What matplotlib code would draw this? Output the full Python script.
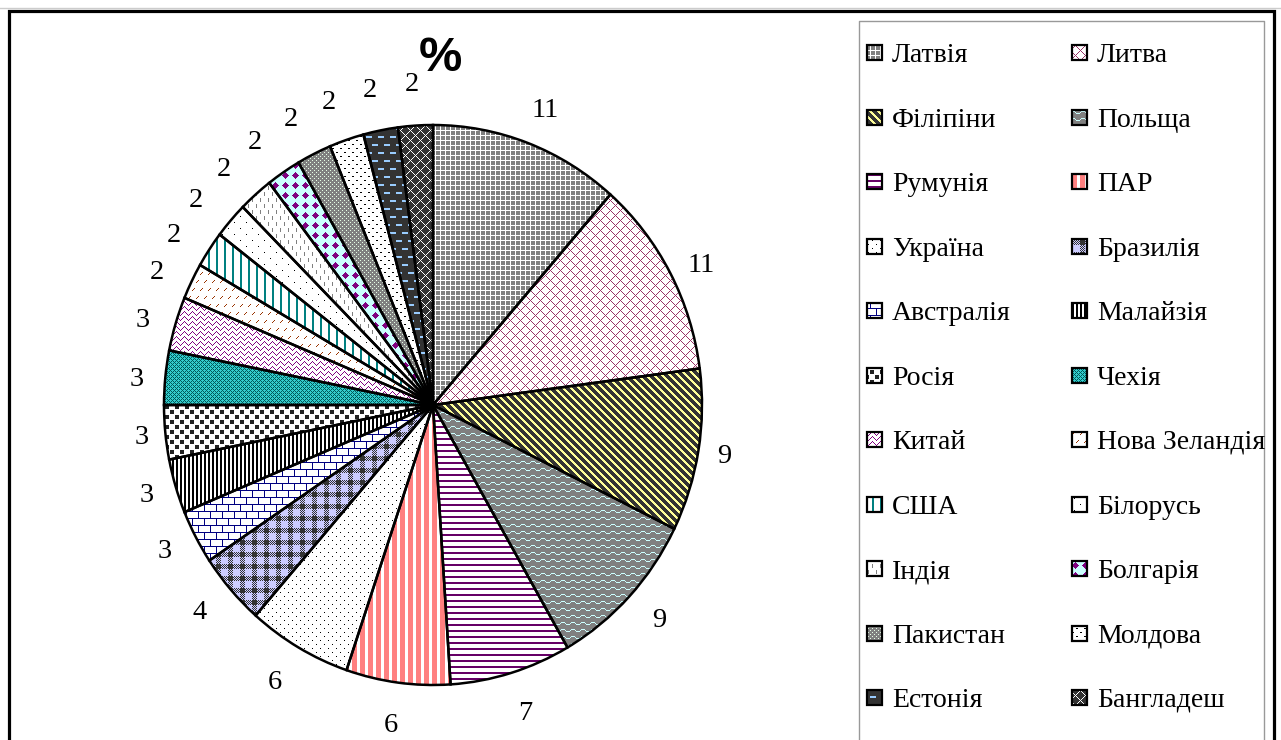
import numpy as np
import matplotlib
matplotlib.use('Agg')
import matplotlib.pyplot as plt
from matplotlib.patches import Rectangle
from matplotlib.colors import to_rgb

# ---------------- data ----------------
countries = ['Латвія', 'Литва', 'Філіпіни', 'Польща', 'Румунія', 'ПАР', 'Україна',
             'Бразилія', 'Австралія', 'Малайзія', 'Росія', 'Чехія', 'Китай',
             'Нова Зеландія', 'США', 'Білорусь', 'Індія', 'Болгарія', 'Пакистан',
             'Молдова', 'Естонія', 'Бангладеш']
shares = [11, 11, 9, 9, 7, 6, 6, 4, 3, 3, 3, 3, 3, 2, 2, 2, 2, 2, 2, 2, 2, 2]
title = '%'

# ---------------- fill patterns (decoration only) ----------------
def _i(m):
    return m.astype(int)

patterns = {
    'Латвія': (['#808080', '#FFFFFF'], lambda I, J: _i((I % 5 == 0) | (J % 5 == 0))),
    'Литва': (['#FFFFFF', '#993366'], lambda I, J: _i(((I + J) % 10 == 0) | ((I - J) % 10 == 0))),
    'Філіпіни': (['#333333', '#FFFF99'], lambda I, J: _i(((I - J) % 8) < 3)),
    'Польща': (['#808080', '#CCFFFF'],
               lambda I, J: _i(((I + np.round(1.5 * np.sin(2 * np.pi * J / 10)).astype(int)) % 7) == 0)),
    'Румунія': (['#FFFFFF', '#660066'], lambda I, J: _i((I % 6) < 2) + 0 * J),
    'ПАР': (['#FFFFFF', '#FF8080'], lambda I, J: _i((J % 8) < 5) + 0 * I),
    'Україна': (['#FFFFFF', '#000000'],
                lambda I, J: _i(((I % 8 == 0) & (J % 8 == 0)) | ((I % 8 == 4) & (J % 8 == 4)))),
    'Бразилія': (['#CCCCFF', '#333333'],
                 lambda I, J: _i(((I % 12 < 5) & (J % 12 < 5)) |
                                 (((I % 12 < 5) ^ (J % 12 < 5)) & ((I + J) % 2 == 0)))),
    'Австралія': (['#FFFFFF', '#000080'],
                  lambda I, J: _i((I % 7 == 0) | (((J + 6 * ((I // 7) % 2)) % 12) == 0))),
    'Малайзія': (['#FFFFFF', '#000000'], lambda I, J: _i((J % 4) < 2) + 0 * I),
    'Росія': (['#FFFFFF', '#222222'],
              lambda I, J: _i((((I // 5) + (J // 5)) % 2 == 0) & (I % 5 < 4) & (J % 5 < 4))),
    'Чехія': (['#33CCCC', '#005A5A'], lambda I, J: _i(((I + J) % 4 == 0) | ((I - J) % 4 == 0))),
    'Китай': (['#FFFFFF', '#800080'],
              lambda I, J: _i(((I + np.abs((J % 8) - 4)) % 5 == 0))),
    'Нова Зеландія': (['#FFFFFF', '#993300'],
                      lambda I, J: _i(((I % 8) < 3) & (((J + 4 * ((I // 8) % 2)) % 8) == 2 - (I % 8)))),
    'США': (['#FFFFFF', '#008080'], lambda I, J: _i((J % 8) < 2) + 0 * I),
    'Білорусь': (['#FFFFFF', '#000000'],
                 lambda I, J: _i(((I % 12 == 0) & (J % 12 == 0)) | ((I % 12 == 6) & (J % 12 == 6)))),
    'Індія': (['#FFFFFF', '#808080'],
              lambda I, J: _i(((J % 8 == 0) & (I % 12 < 4)) | ((J % 8 == 4) & ((I + 6) % 12 < 4)))),
    'Болгарія': (['#CCFFFF', '#800080'],
                 lambda I, J: _i((np.abs((I % 10) - 5) + np.abs((J % 10) - 5) <= 3))),
    'Пакистан': (['#808080', '#E6FFE6'],
                 lambda I, J: _i(((I % 4 == 0) & (J % 4 == 0)) | ((I % 4 == 2) & (J % 4 == 2)))),
    'Молдова': (['#FFFFFF', '#000000'],
                lambda I, J: _i(((I % 8 == 0) & (J % 8 < 2)) | ((I % 8 == 4) & ((J + 4) % 8 < 2)))),
    'Естонія': (['#333333', '#99CCFF'],
                lambda I, J: _i(((I % 8) < 2) & (((J + 6 * ((I // 8) % 2)) % 12) < 6))),
    'Бангладеш': (['#333333', '#FFFFFF'], lambda I, J: _i(((I + J) % 10 == 0) | ((I - J) % 10 == 0))),
}


def texture(name, I, J):
    cols, fn = patterns[name]
    idx = fn(I, J)
    idx = np.broadcast_to(idx, np.broadcast_shapes(I.shape, J.shape))
    pal = np.array([to_rgb(c) for c in cols])
    return pal[idx]


# ---------------- figure ----------------
W, H = 1281, 740
fig = plt.figure(figsize=(W / 100, H / 100), dpi=100)
fig.patch.set_facecolor('white')

cx, cy, rx, ry = 433, 405, 269, 280
ax = fig.add_axes([0, 0, 1, 1])
wedges, _ = ax.pie(shares, startangle=90, counterclock=False, radius=1,
                   wedgeprops=dict(facecolor='none', edgecolor='black',
                                   linewidth=1.8, zorder=3))

# pattern fills clipped to each wedge
x0, x1 = cx - 280, cx + 280
y0, y1 = cy - 290, cy + 290
I = np.arange(y0, y1)[:, None]
J = np.arange(x0, x1)[None, :]
ext = ((x0 - cx) / rx, (x1 - cx) / rx, (cy - y1) / ry, (cy - y0) / ry)
for w, name in zip(wedges, countries):
    im = ax.imshow(texture(name, I, J), extent=ext, interpolation='nearest',
                   aspect='auto', zorder=1)
    im.set_clip_path(w)

ax.set_xlim(-cx / rx, (W - cx) / rx)
ax.set_ylim(-(H - cy) / ry, cy / ry)
ax.set_aspect('auto')
ax.axis('off')

# overlay axes in pixel coordinates
ax2 = fig.add_axes([0, 0, 1, 1], zorder=5)
ax2.patch.set_alpha(0)

serif = ['Liberation Serif', 'DejaVu Serif']

# value labels around pie
for w, v in zip(wedges, shares):
    phi = np.deg2rad((w.theta1 + w.theta2) / 2)
    rl = 290 + 30 * abs(np.sin(phi))
    if np.cos(phi) < 0 and np.sin(phi) > 0:
        rl += 5
    px = cx + rl * np.cos(phi)
    py = cy - rl * np.sin(phi)
    ax2.text(px, py + 10, f'{v}', ha='center', va='baseline', fontsize=20.5,
             family=serif, color='black')

# title
ax2.text(440, 71, title, ha='center', va='baseline', fontsize=35,
         fontweight='bold', family=['Liberation Sans', 'DejaVu Sans'])

# legend (two columns)
for k, name in enumerate(countries):
    col, row = k % 2, k // 2
    sx = 866 if col == 0 else 1071
    syc = int(round(52.5 + 64.45 * row))
    sy = syc - 8
    Il = np.arange(sy, sy + 17)[:, None]
    Jl = np.arange(sx, sx + 17)[None, :]
    ax2.imshow(texture(name, Il, Jl), extent=(sx, sx + 17, sy + 17, sy),
               interpolation='nearest', aspect='auto', zorder=2)
    ax2.add_patch(Rectangle((sx + 1, sy + 1), 15, 15, facecolor='none',
                            edgecolor='black', linewidth=1.6, zorder=3))
    ax2.text(sx + 26, syc + 10, name, ha='left', va='baseline', fontsize=20,
             family=serif, color='black')

# frames
ax2.plot([0, W], [8, 8], color='#CCCCCC', linewidth=1.0)
ax2.plot([8.5, 8.5, 1274, 1274], [H, 10.5, 10.5, H], color='black', linewidth=2.3,
         solid_joinstyle='miter')
ax2.plot([858.5, 858.5, 1264, 1264], [H, 20.5, 20.5, H], color='#999999', linewidth=1.0)

ax2.set_xlim(0, W)
ax2.set_ylim(H, 0)
ax2.set_aspect('auto')
ax2.axis('off')

fig.savefig('out.png', dpi=100, facecolor='white')
